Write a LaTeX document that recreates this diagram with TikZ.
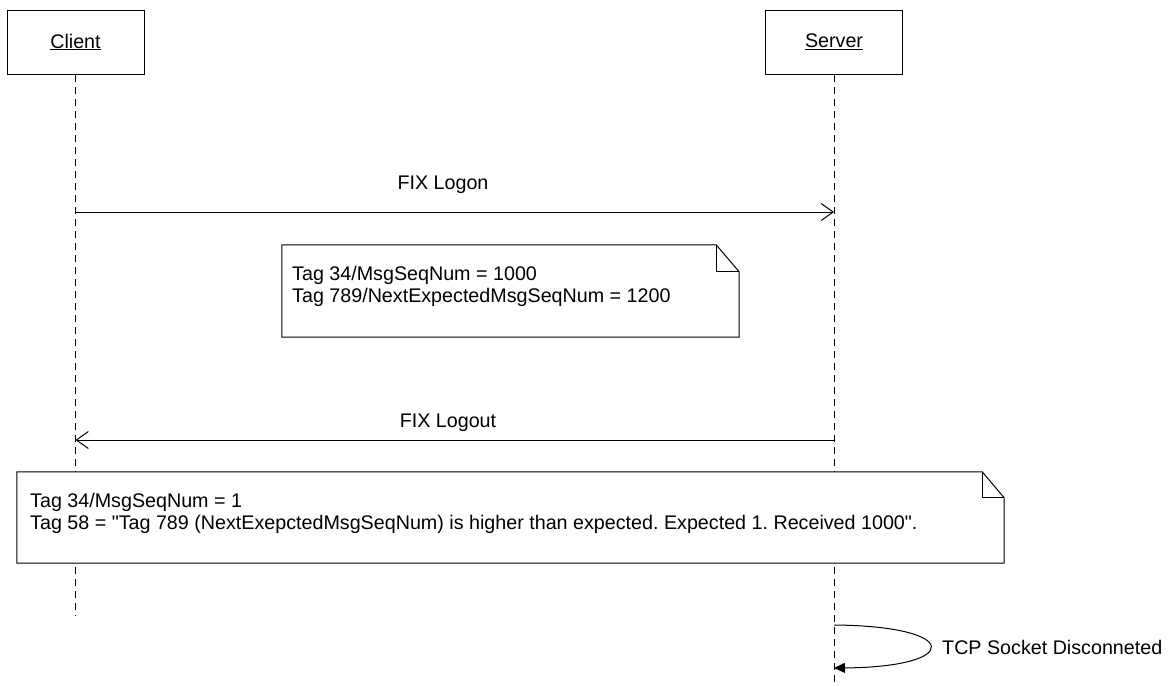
\documentclass[tikz,border=0pt]{standalone}
\usepackage{fontspec}
% plain family: keeps straight double quotes as typed
\newfontfamily\diagfont{Liberation Sans}
\usetikzlibrary{arrows.meta}
\begin{document}
\frenchspacing
\begin{tikzpicture}[x=1pt,y=-1pt,
  every node/.style={font=\diagfont\fontsize{19.7}{22}\selectfont, inner sep=0pt},
  actor/.style={draw, fill=white, line width=1pt, minimum width=137pt, minimum height=64pt},
  lifeline/.style={line width=1pt, dash pattern=on 7pt off 5pt},
  msg/.style={line width=1pt, -{Straight Barb[length=12pt,width=17pt,line width=1pt]}},
  selfmsg/.style={line width=1pt, -{Triangle[length=11pt,width=10pt]}},
  noteline/.style={line width=1pt},
  notefill/.style={fill=white, draw=none},
  notetext/.style={anchor=west, align=left}
]
\useasboundingbox (0,0) rectangle (1169,686);

% participants
\node[actor] (client) at (75.5,42) {\underline{Client}};
\node[actor] (server) at (834,42) {\underline{Server}};

% lifelines
\coordinate (clientend) at (75.5,615);
\coordinate (serverend) at (834,686);
\draw[lifeline] (client.south) -- (clientend);
\draw[lifeline] (server.south) -- (serverend);

% FIX Logon
\coordinate (logonC) at (75.5,212);
\coordinate (logonS) at (834,212);
\draw[msg] (logonC) -- (logonS);
\node (logonlbl) at (443,185) {FIX Logon};

% note on the logon message
\node[minimum width=457pt, minimum height=92pt] (note1) at (510.5,291) {};
\draw[noteline, fill=white] (note1.north west) -- ([xshift=-23pt]note1.north east)
  -- ([yshift=-27pt]note1.north east) -- (note1.south east)
  -- (note1.south west) -- cycle;
\draw[noteline] ([xshift=-23pt]note1.north east) |- ([yshift=-27pt]note1.north east);
\node[notetext] (note1txt) at (292,286) {Tag 34/MsgSeqNum = 1000\\Tag 789/NextExpectedMsgSeqNum = 1200};

% FIX Logout
\coordinate (logoutS) at (834,440);
\coordinate (logoutC) at (75.5,440);
\draw[msg] (logoutS) -- (logoutC);
\node (logoutlbl) at (448,423) {FIX Logout};

% note on the logout message (covers both lifelines)
\node[minimum width=987pt, minimum height=91pt] (note2) at (510.5,517.5) {};
\draw[noteline, fill=white] (note2.north west) -- ([xshift=-22pt]note2.north east)
  -- ([yshift=-26pt]note2.north east) -- (note2.south east)
  -- (note2.south west) -- cycle;
\draw[noteline] ([xshift=-22pt]note2.north east) |- ([yshift=-26pt]note2.north east);
\node[notetext] (note2txt) at (30,513) {Tag 34/MsgSeqNum = 1\\Tag 58 = "Tag 789 (NextExepctedMsgSeqNum) is higher than expected. Expected 1. Received 1000".};

% self message on the server
\coordinate (loopA) at (834,625);
\coordinate (loopB) at (834,668);
\draw[selfmsg] (loopA) .. controls (962,626) and (962,667) .. (loopB);
\node[anchor=west] (tcplbl) at (942,647) {TCP Socket Disconneted};
\end{tikzpicture}
\end{document}
